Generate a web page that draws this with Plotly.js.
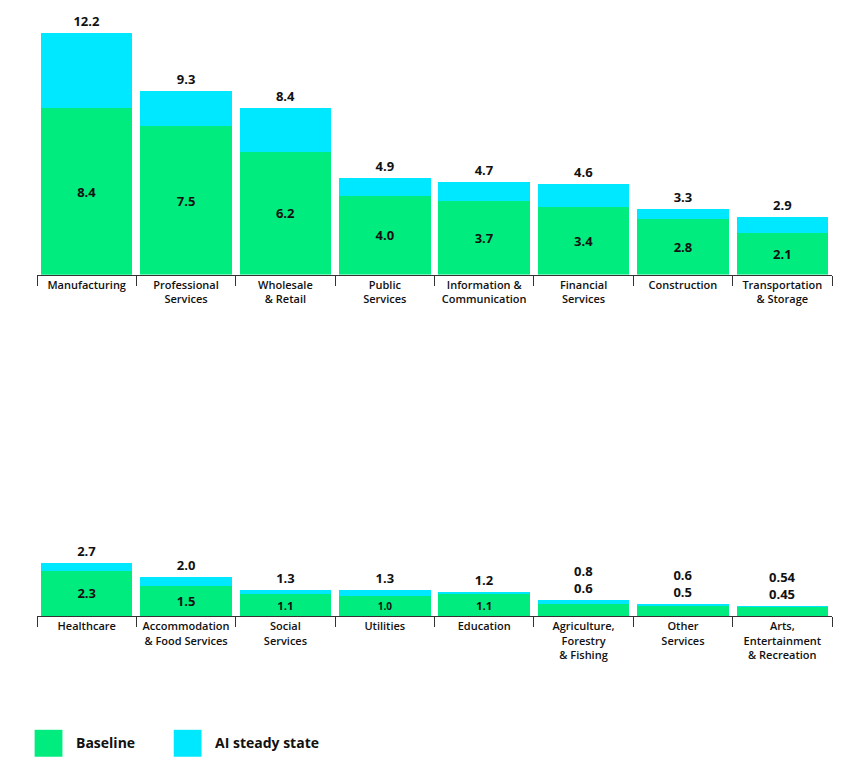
<!DOCTYPE html>
<html><head><meta charset="utf-8">
<script src="https://cdn.plot.ly/plotly-3.0.1.min.js"></script>
<style>body{margin:0;background:#fff}</style>
</head><body><div id="chart" style="width:868px;height:768px"></div>
<script>
var topCats = ['Manufacturing', 'Professional<br>Services', 'Wholesale<br>& Retail', 'Public<br>Services',
  'Information &<br>Communication', 'Financial<br>Services', 'Construction', 'Transportation<br>& Storage'];
var topBase = [8.4, 7.5, 6.2, 4.0, 3.7, 3.4, 2.8, 2.1];
var topAI = [12.2, 9.3, 8.4, 4.9, 4.7, 4.6, 3.3, 2.9];

var botCats = ['Healthcare', 'Accommodation<br>& Food Services', 'Social<br>Services', 'Utilities', 'Education',
  'Agriculture,<br>Forestry<br>& Fishing', 'Other<br>Services', 'Arts,<br>Entertainment<br>& Recreation'];
var botBase = [2.3, 1.5, 1.1, 1.0, 1.1, 0.6, 0.5, 0.45];
var botAI = [2.7, 2.0, 1.3, 1.3, 1.2, 0.8, 0.6, 0.54];
var botInside = [true, true, true, true, true, false, false, false];

var green = '#00EC7E', cyan = '#00E8FF';
var fnt = {family: 'Open Sans, Arial', size: 13, color: '#111', weight: 700};

function fmt(v) { return v < 1 && v !== 0.6 && v !== 0.8 && v !== 0.5 ? String(v) : v.toFixed(1); }

function traces(cats, base, ai, inside, xa, ya) {
  var baseText = base.map(function (v, i) { return inside[i] ? v.toFixed(1) : ''; });
  var topText = ai.map(function (v, i) { return inside[i] ? v.toFixed(1) : fmt(v) + '<br>' + fmt(base[i]); });
  return [
    {type: 'bar', x: cats, y: base, xaxis: xa, yaxis: ya, marker: {color: green}, showlegend: false,
      text: baseText, textposition: 'inside', insidetextanchor: 'middle', textfont: fnt, hoverinfo: 'none'},
    {type: 'bar', x: cats, y: ai.map(function (v, i) { return v - base[i]; }), xaxis: xa, yaxis: ya,
      marker: {color: cyan}, showlegend: false, text: topText, textposition: 'outside', textfont: fnt,
      cliponaxis: false, hoverinfo: 'none'}
  ];
}

var data = traces(topCats, topBase, topAI, [1,1,1,1,1,1,1,1], 'x', 'y')
  .concat(traces(botCats, botBase, botAI, botInside, 'x2', 'y2'));
// stacked outside text shows segment total; fix by using explicit text above (already set)

var xax = {type: 'category', showline: true, linecolor: '#333', linewidth: 1, ticks: 'outside',
  tickson: 'boundaries', ticklen: 10, tickcolor: '#333', showgrid: false,
  tickfont: {family: 'Open Sans, Arial', size: 11, color: '#111', weight: 600}};
var yax = {visible: false, showgrid: false, zeroline: false};

var layout = {
  width: 868, height: 768, barmode: 'stack', bargap: 0.08, uniformtext: {mode: false},
  paper_bgcolor: '#fff', plot_bgcolor: '#fff',
  margin: {l: 37, r: 36, t: 20, b: 20},
  xaxis: Object.assign({}, xax, {anchor: 'y'}),
  yaxis: Object.assign({}, yax, {domain: [0.65, 0.982], range: [0, 12.2]}),
  xaxis2: Object.assign({}, xax, {anchor: 'y2'}),
  yaxis2: Object.assign({}, yax, {domain: [0.181, 0.5], range: [0, 11.7]}),
  shapes: [
    {type: 'rect', xref: 'paper', yref: 'paper', x0: -0.003, x1: 0.032, y0: -0.012, y1: 0.025, fillcolor: green, line: {width: 0}},
    {type: 'rect', xref: 'paper', yref: 'paper', x0: 0.172, x1: 0.207, y0: -0.012, y1: 0.025, fillcolor: cyan, line: {width: 0}}
  ],
  annotations: [
    {xref: 'paper', yref: 'paper', x: 0.046, y: 0.007, xanchor: 'left', yanchor: 'middle', showarrow: false,
      text: 'Baseline', font: {family: 'Open Sans, Arial', size: 14, color: '#111', weight: 700}},
    {xref: 'paper', yref: 'paper', x: 0.221, y: 0.007, xanchor: 'left', yanchor: 'middle', showarrow: false,
      text: 'AI steady state', font: {family: 'Open Sans, Arial', size: 14, color: '#111', weight: 700}}
  ]
};

Plotly.newPlot('chart', data, layout, {displayModeBar: false, staticPlot: true});
</script></body></html>
